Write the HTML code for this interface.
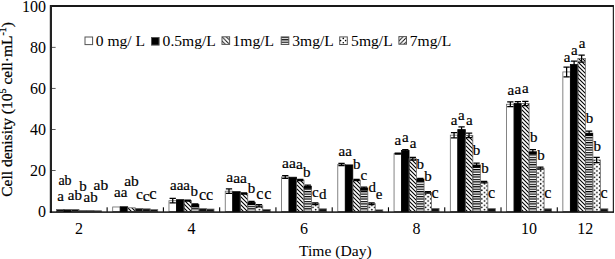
<!DOCTYPE html>
<html><head><meta charset="utf-8"><style>
html,body{margin:0;padding:0;background:#fff;}
body{width:615px;height:259px;overflow:hidden;}
svg{display:block;}
text{font-family:"Liberation Serif",serif;fill:#000;}
</style></head><body>
<svg width="615" height="259" viewBox="0 0 615 259">
<defs>
<pattern id="hb" patternUnits="userSpaceOnUse" width="4" height="4">
<path d="M-1,-1 L5,5 M-1,3 L1,5 M3,-1 L5,1" stroke="#000" stroke-width="1.1"/>
</pattern>
<pattern id="hf" patternUnits="userSpaceOnUse" width="4" height="4">
<path d="M-1,5 L5,-1 M-1,1 L1,-1 M3,5 L5,3" stroke="#000" stroke-width="1.1"/>
</pattern>
<pattern id="lhb" patternUnits="userSpaceOnUse" width="4.2" height="4.2" patternTransform="translate(222,36.8)">
<path d="M-1,-1 L5.2,5.2 M-1,3.2 L1,5.2 M3.2,-1 L5.2,1" stroke="#000" stroke-width="0.9"/>
</pattern>
<pattern id="lhf" patternUnits="userSpaceOnUse" width="4.2" height="4.2" patternTransform="translate(399,36.6)">
<path d="M-1,5.2 L5.2,-1 M-1,1 L1,-1 M3.2,5.2 L5.2,3.2" stroke="#000" stroke-width="0.9"/>
</pattern>
<pattern id="hs" patternUnits="userSpaceOnUse" width="6" height="2.45">
<rect x="0" y="0" width="6" height="1.2" fill="#000"/>
</pattern>
<pattern id="hd" patternUnits="userSpaceOnUse" width="5.2" height="4.3">
<circle cx="1.5" cy="1" r="0.85" fill="#000"/>
<circle cx="4.1" cy="3.15" r="0.85" fill="#000"/>
</pattern>

<pattern id="hd0" patternUnits="userSpaceOnUse" width="5.2" height="4.3" patternTransform="translate(86.44,0)"><circle cx="1.5" cy="1" r="0.85" fill="#000"/><circle cx="4.1" cy="3.15" r="0.85" fill="#000"/></pattern>
<pattern id="hd1" patternUnits="userSpaceOnUse" width="5.2" height="4.3" patternTransform="translate(142.71,0)"><circle cx="1.5" cy="1" r="0.85" fill="#000"/><circle cx="4.1" cy="3.15" r="0.85" fill="#000"/></pattern>
<pattern id="hd2" patternUnits="userSpaceOnUse" width="5.2" height="4.3" patternTransform="translate(198.98,0)"><circle cx="1.5" cy="1" r="0.85" fill="#000"/><circle cx="4.1" cy="3.15" r="0.85" fill="#000"/></pattern>
<pattern id="hd3" patternUnits="userSpaceOnUse" width="5.2" height="4.3" patternTransform="translate(255.25,0)"><circle cx="1.5" cy="1" r="0.85" fill="#000"/><circle cx="4.1" cy="3.15" r="0.85" fill="#000"/></pattern>
<pattern id="hd4" patternUnits="userSpaceOnUse" width="5.2" height="4.3" patternTransform="translate(311.52,0)"><circle cx="1.5" cy="1" r="0.85" fill="#000"/><circle cx="4.1" cy="3.15" r="0.85" fill="#000"/></pattern>
<pattern id="hd5" patternUnits="userSpaceOnUse" width="5.2" height="4.3" patternTransform="translate(367.79,0)"><circle cx="1.5" cy="1" r="0.85" fill="#000"/><circle cx="4.1" cy="3.15" r="0.85" fill="#000"/></pattern>
<pattern id="hd6" patternUnits="userSpaceOnUse" width="5.2" height="4.3" patternTransform="translate(424.06,0)"><circle cx="1.5" cy="1" r="0.85" fill="#000"/><circle cx="4.1" cy="3.15" r="0.85" fill="#000"/></pattern>
<pattern id="hd7" patternUnits="userSpaceOnUse" width="5.2" height="4.3" patternTransform="translate(480.33,0)"><circle cx="1.5" cy="1" r="0.85" fill="#000"/><circle cx="4.1" cy="3.15" r="0.85" fill="#000"/></pattern>
<pattern id="hd8" patternUnits="userSpaceOnUse" width="5.2" height="4.3" patternTransform="translate(536.60,0)"><circle cx="1.5" cy="1" r="0.85" fill="#000"/><circle cx="4.1" cy="3.15" r="0.85" fill="#000"/></pattern>
<pattern id="hd9" patternUnits="userSpaceOnUse" width="5.2" height="4.3" patternTransform="translate(592.87,0)"><circle cx="1.5" cy="1" r="0.85" fill="#000"/><circle cx="4.1" cy="3.15" r="0.85" fill="#000"/></pattern>
</defs>
<rect width="615" height="259" fill="#fff"/>
<rect x="56.43" y="209.45" width="7.50" height="2.05" fill="#111" stroke="#666" stroke-width="0.8"/>
<rect x="63.93" y="209.86" width="7.50" height="1.64" fill="#111" stroke="#000" stroke-width="0.8"/>
<rect x="71.43" y="209.45" width="7.50" height="2.05" fill="#111" stroke="#666" stroke-width="0.8"/>
<rect x="78.94" y="210.47" width="7.50" height="1.03" fill="#111" stroke="#666" stroke-width="0.8"/>
<rect x="86.44" y="210.47" width="7.50" height="1.03" fill="#111" stroke="#666" stroke-width="0.8"/>
<rect x="93.94" y="210.78" width="7.50" height="0.72" fill="#111" stroke="#666" stroke-width="0.8"/>
<rect x="112.70" y="206.98" width="7.50" height="4.52" fill="#fff" stroke="#666" stroke-width="0.8"/>
<rect x="120.20" y="206.78" width="7.50" height="4.72" fill="#000" stroke="#000" stroke-width="0.8"/>
<rect x="127.70" y="207.81" width="7.50" height="3.69" fill="url(#hb)" stroke="#666" stroke-width="0.8"/>
<rect x="135.20" y="208.42" width="7.50" height="3.08" fill="#111" stroke="#666" stroke-width="0.8"/>
<rect x="142.71" y="208.83" width="7.50" height="2.67" fill="#111" stroke="#666" stroke-width="0.8"/>
<rect x="150.21" y="209.65" width="7.50" height="1.85" fill="#111" stroke="#666" stroke-width="0.8"/>
<rect x="168.97" y="200.72" width="7.50" height="10.78" fill="#fff" stroke="#666" stroke-width="0.8"/>
<path d="M172.72,198.47 V202.98 M169.57,198.47 H175.87 M169.57,202.98 H175.87" stroke="#000" stroke-width="1.25" fill="none"/>
<rect x="176.47" y="199.70" width="7.50" height="11.80" fill="#000" stroke="#000" stroke-width="0.8"/>
<rect x="183.97" y="200.62" width="7.50" height="10.88" fill="url(#hb)" stroke="#666" stroke-width="0.8"/>
<path d="M187.72,200.01 V201.24 M184.57,200.01 H190.88 M184.57,201.24 H190.88" stroke="#000" stroke-width="1.25" fill="none"/>
<rect x="191.48" y="204.52" width="7.50" height="6.98" fill="url(#hs)" stroke="#666" stroke-width="0.8"/>
<rect x="191.48" y="204.52" width="7.50" height="2.8" fill="#000"/>
<path d="M195.23,203.91 V205.14 M192.08,203.91 H198.38 M192.08,205.14 H198.38" stroke="#000" stroke-width="1.25" fill="none"/>
<rect x="198.98" y="208.63" width="7.50" height="2.87" fill="#111" stroke="#666" stroke-width="0.8"/>
<rect x="206.48" y="209.04" width="7.50" height="2.46" fill="#111" stroke="#666" stroke-width="0.8"/>
<rect x="225.24" y="191.18" width="7.50" height="20.32" fill="#fff" stroke="#666" stroke-width="0.8"/>
<path d="M228.99,188.92 V193.44 M225.84,188.92 H232.14 M225.84,193.44 H232.14" stroke="#000" stroke-width="1.25" fill="none"/>
<rect x="232.74" y="191.69" width="7.50" height="19.81" fill="#000" stroke="#000" stroke-width="0.8"/>
<rect x="240.24" y="193.44" width="7.50" height="18.06" fill="url(#hb)" stroke="#666" stroke-width="0.8"/>
<path d="M243.99,192.82 V194.05 M240.84,192.82 H247.15 M240.84,194.05 H247.15" stroke="#000" stroke-width="1.25" fill="none"/>
<rect x="247.75" y="202.26" width="7.50" height="9.24" fill="url(#hs)" stroke="#666" stroke-width="0.8"/>
<rect x="247.75" y="202.26" width="7.50" height="2.8" fill="#000"/>
<path d="M251.50,201.44 V203.08 M248.35,201.44 H254.65 M248.35,203.08 H254.65" stroke="#000" stroke-width="1.25" fill="none"/>
<rect x="255.25" y="205.75" width="7.50" height="5.75" fill="url(#hd3)" stroke="#666" stroke-width="0.8"/>
<path d="M259.00,204.73 V206.78 M255.85,204.73 H262.15 M255.85,206.78 H262.15" stroke="#000" stroke-width="1.25" fill="none"/>
<rect x="262.75" y="209.45" width="7.50" height="2.05" fill="#111" stroke="#666" stroke-width="0.8"/>
<rect x="281.51" y="177.02" width="7.50" height="34.48" fill="#fff" stroke="#666" stroke-width="0.8"/>
<path d="M285.26,175.58 V178.45 M282.11,175.58 H288.41 M282.11,178.45 H288.41" stroke="#000" stroke-width="1.25" fill="none"/>
<rect x="289.01" y="177.22" width="7.50" height="34.28" fill="#000" stroke="#000" stroke-width="0.8"/>
<rect x="296.51" y="180.10" width="7.50" height="31.40" fill="url(#hb)" stroke="#666" stroke-width="0.8"/>
<path d="M300.26,179.48 V180.71 M297.11,179.48 H303.41 M297.11,180.71 H303.41" stroke="#000" stroke-width="1.25" fill="none"/>
<rect x="304.01" y="186.05" width="7.50" height="25.45" fill="url(#hs)" stroke="#666" stroke-width="0.8"/>
<rect x="304.01" y="186.05" width="7.50" height="2.8" fill="#000"/>
<path d="M307.77,185.23 V186.87 M304.62,185.23 H310.92 M304.62,186.87 H310.92" stroke="#000" stroke-width="1.25" fill="none"/>
<rect x="311.52" y="203.70" width="7.50" height="7.80" fill="url(#hd4)" stroke="#666" stroke-width="0.8"/>
<path d="M315.27,202.78 V204.62 M312.12,202.78 H318.42 M312.12,204.62 H318.42" stroke="#000" stroke-width="1.25" fill="none"/>
<rect x="319.02" y="208.83" width="7.50" height="2.67" fill="#111" stroke="#666" stroke-width="0.8"/>
<rect x="337.78" y="164.50" width="7.50" height="47.00" fill="#fff" stroke="#666" stroke-width="0.8"/>
<path d="M341.53,163.47 V165.52 M338.38,163.47 H344.68 M338.38,165.52 H344.68" stroke="#000" stroke-width="1.25" fill="none"/>
<rect x="345.28" y="164.91" width="7.50" height="46.59" fill="#000" stroke="#000" stroke-width="0.8"/>
<rect x="352.78" y="180.10" width="7.50" height="31.40" fill="url(#hb)" stroke="#666" stroke-width="0.8"/>
<path d="M356.53,179.48 V180.71 M353.38,179.48 H359.69 M353.38,180.71 H359.69" stroke="#000" stroke-width="1.25" fill="none"/>
<rect x="360.29" y="187.90" width="7.50" height="23.60" fill="url(#hs)" stroke="#666" stroke-width="0.8"/>
<rect x="360.29" y="187.90" width="7.50" height="2.8" fill="#000"/>
<path d="M364.04,187.08 V188.72 M360.89,187.08 H367.19 M360.89,188.72 H367.19" stroke="#000" stroke-width="1.25" fill="none"/>
<rect x="367.79" y="203.70" width="7.50" height="7.80" fill="url(#hd5)" stroke="#666" stroke-width="0.8"/>
<path d="M371.54,202.88 V204.52 M368.39,202.88 H374.69 M368.39,204.52 H374.69" stroke="#000" stroke-width="1.25" fill="none"/>
<rect x="375.29" y="209.86" width="7.50" height="1.64" fill="#111" stroke="#666" stroke-width="0.8"/>
<rect x="394.05" y="153.62" width="7.50" height="57.88" fill="#fff" stroke="#666" stroke-width="0.8"/>
<path d="M397.80,153.21 V154.03 M394.65,153.21 H400.95 M394.65,154.03 H400.95" stroke="#000" stroke-width="1.25" fill="none"/>
<rect x="401.55" y="150.54" width="7.50" height="60.96" fill="#000" stroke="#000" stroke-width="0.8"/>
<path d="M405.30,149.51 V151.57 M402.15,149.51 H408.45 M402.15,151.57 H408.45" stroke="#000" stroke-width="1.25" fill="none"/>
<rect x="409.05" y="158.75" width="7.50" height="52.75" fill="url(#hb)" stroke="#666" stroke-width="0.8"/>
<path d="M412.80,157.31 V160.19 M409.65,157.31 H415.95 M409.65,160.19 H415.95" stroke="#000" stroke-width="1.25" fill="none"/>
<rect x="416.56" y="179.07" width="7.50" height="32.43" fill="url(#hs)" stroke="#666" stroke-width="0.8"/>
<rect x="416.56" y="179.07" width="7.50" height="2.8" fill="#000"/>
<path d="M420.31,178.25 V179.89 M417.16,178.25 H423.46 M417.16,179.89 H423.46" stroke="#000" stroke-width="1.25" fill="none"/>
<rect x="424.06" y="192.41" width="7.50" height="19.09" fill="url(#hd6)" stroke="#666" stroke-width="0.8"/>
<path d="M427.81,191.59 V193.23 M424.66,191.59 H430.96 M424.66,193.23 H430.96" stroke="#000" stroke-width="1.25" fill="none"/>
<rect x="431.56" y="208.42" width="7.50" height="3.08" fill="#111" stroke="#666" stroke-width="0.8"/>
<rect x="450.32" y="135.15" width="7.50" height="76.35" fill="#fff" stroke="#666" stroke-width="0.8"/>
<path d="M454.07,132.54 V137.75 M450.92,132.54 H457.22 M450.92,137.75 H457.22" stroke="#000" stroke-width="1.25" fill="none"/>
<rect x="457.82" y="129.61" width="7.50" height="81.89" fill="#000" stroke="#000" stroke-width="0.8"/>
<path d="M461.57,126.94 V132.27 M458.42,126.94 H464.72 M458.42,132.27 H464.72" stroke="#000" stroke-width="1.25" fill="none"/>
<rect x="465.32" y="135.35" width="7.50" height="76.15" fill="url(#hb)" stroke="#666" stroke-width="0.8"/>
<path d="M469.07,133.16 V137.55 M465.92,133.16 H472.23 M465.92,137.55 H472.23" stroke="#000" stroke-width="1.25" fill="none"/>
<rect x="472.83" y="164.91" width="7.50" height="46.59" fill="url(#hs)" stroke="#666" stroke-width="0.8"/>
<rect x="472.83" y="164.91" width="7.50" height="2.8" fill="#000"/>
<path d="M476.58,163.06 V166.76 M473.43,163.06 H479.73 M473.43,166.76 H479.73" stroke="#000" stroke-width="1.25" fill="none"/>
<rect x="480.33" y="182.15" width="7.50" height="29.35" fill="url(#hd7)" stroke="#666" stroke-width="0.8"/>
<path d="M484.08,181.33 V182.97 M480.93,181.33 H487.23 M480.93,182.97 H487.23" stroke="#000" stroke-width="1.25" fill="none"/>
<rect x="487.83" y="208.63" width="7.50" height="2.87" fill="#111" stroke="#666" stroke-width="0.8"/>
<rect x="506.59" y="104.26" width="7.50" height="107.24" fill="#fff" stroke="#666" stroke-width="0.8"/>
<path d="M510.34,101.79 V106.72 M507.19,101.79 H513.49 M507.19,106.72 H513.49" stroke="#000" stroke-width="1.25" fill="none"/>
<rect x="514.09" y="103.54" width="7.50" height="107.96" fill="#000" stroke="#000" stroke-width="0.8"/>
<path d="M517.84,101.69 V105.39 M514.69,101.69 H520.99 M514.69,105.39 H520.99" stroke="#000" stroke-width="1.25" fill="none"/>
<rect x="521.59" y="103.54" width="7.50" height="107.96" fill="url(#hb)" stroke="#666" stroke-width="0.8"/>
<path d="M525.34,101.49 V105.59 M522.19,101.49 H528.50 M522.19,105.59 H528.50" stroke="#000" stroke-width="1.25" fill="none"/>
<rect x="529.10" y="151.57" width="7.50" height="59.93" fill="url(#hs)" stroke="#666" stroke-width="0.8"/>
<rect x="529.10" y="151.57" width="7.50" height="2.8" fill="#000"/>
<path d="M532.85,149.72 V153.41 M529.70,149.72 H536.00 M529.70,153.41 H536.00" stroke="#000" stroke-width="1.25" fill="none"/>
<rect x="536.60" y="168.19" width="7.50" height="43.31" fill="url(#hd8)" stroke="#666" stroke-width="0.8"/>
<path d="M540.35,167.17 V169.22 M537.20,167.17 H543.50 M537.20,169.22 H543.50" stroke="#000" stroke-width="1.25" fill="none"/>
<rect x="544.10" y="208.83" width="7.50" height="2.67" fill="#111" stroke="#666" stroke-width="0.8"/>
<rect x="562.86" y="71.93" width="7.50" height="139.57" fill="#fff" stroke="#666" stroke-width="0.8"/>
<path d="M566.61,67.09 V76.77 M563.46,67.09 H569.76 M563.46,76.77 H569.76" stroke="#000" stroke-width="1.25" fill="none"/>
<rect x="570.36" y="64.54" width="7.50" height="146.96" fill="#000" stroke="#000" stroke-width="0.8"/>
<path d="M574.11,61.05 V68.03 M570.96,61.05 H577.26 M570.96,68.03 H577.26" stroke="#000" stroke-width="1.25" fill="none"/>
<rect x="577.86" y="58.59" width="7.50" height="152.91" fill="url(#hb)" stroke="#666" stroke-width="0.8"/>
<path d="M581.61,55.18 V62.00 M578.46,55.18 H584.76 M578.46,62.00 H584.76" stroke="#000" stroke-width="1.25" fill="none"/>
<rect x="585.37" y="133.09" width="7.50" height="78.41" fill="url(#hs)" stroke="#666" stroke-width="0.8"/>
<rect x="585.37" y="133.09" width="7.50" height="2.8" fill="#000"/>
<path d="M589.12,131.04 V135.15 M585.97,131.04 H592.27 M585.97,135.15 H592.27" stroke="#000" stroke-width="1.25" fill="none"/>
<rect x="592.87" y="159.98" width="7.50" height="51.52" fill="url(#hd9)" stroke="#666" stroke-width="0.8"/>
<path d="M596.62,157.44 V162.53 M593.47,157.44 H599.77 M593.47,162.53 H599.77" stroke="#000" stroke-width="1.25" fill="none"/>
<rect x="600.37" y="208.83" width="7.50" height="2.67" fill="#111" stroke="#666" stroke-width="0.8"/>
<rect x="50" y="5.1" width="563.5" height="1.8" fill="#000"/>
<rect x="612.8" y="5.1" width="1.1" height="207.7" fill="#111"/>
<rect x="49.8" y="5.1" width="2.2" height="207.6" fill="#222"/>
<rect x="49.8" y="211.4" width="563.8" height="1.4" fill="#000"/>
<rect x="51.8" y="170.05" width="3.8" height="0.8" fill="#333"/>
<rect x="51.8" y="129.00" width="3.8" height="0.8" fill="#333"/>
<rect x="51.8" y="87.95" width="3.8" height="0.8" fill="#333"/>
<rect x="51.8" y="46.90" width="3.8" height="0.8" fill="#333"/>
<rect x="106.57" y="207.3" width="1.1" height="4.5" fill="#000"/>
<rect x="162.84" y="207.3" width="1.1" height="4.5" fill="#000"/>
<rect x="219.11" y="207.3" width="1.1" height="4.5" fill="#000"/>
<rect x="275.38" y="207.3" width="1.1" height="4.5" fill="#000"/>
<rect x="331.65" y="207.3" width="1.1" height="4.5" fill="#000"/>
<rect x="387.92" y="207.3" width="1.1" height="4.5" fill="#000"/>
<rect x="444.19" y="207.3" width="1.1" height="4.5" fill="#000"/>
<rect x="500.46" y="207.3" width="1.1" height="4.5" fill="#000"/>
<rect x="556.73" y="207.3" width="1.1" height="4.5" fill="#000"/>
<text x="46" y="216.90" font-size="16" text-anchor="end">0</text>
<text x="46" y="175.85" font-size="16" text-anchor="end">20</text>
<text x="46" y="134.80" font-size="16" text-anchor="end">40</text>
<text x="46" y="93.75" font-size="16" text-anchor="end">60</text>
<text x="46" y="52.70" font-size="16" text-anchor="end">80</text>
<text x="46" y="11.65" font-size="16" text-anchor="end">100</text>
<text x="78.94" y="234.2" font-size="16" text-anchor="middle">2</text>
<text x="191.47" y="234.2" font-size="16" text-anchor="middle">4</text>
<text x="304.01" y="234.2" font-size="16" text-anchor="middle">6</text>
<text x="416.56" y="234.2" font-size="16" text-anchor="middle">8</text>
<text x="529.10" y="234.2" font-size="16" text-anchor="middle">10</text>
<text x="585.37" y="234.2" font-size="16" text-anchor="middle">12</text>
<text x="299" y="255.5" font-size="15.6">Time (Day)</text>
<text transform="translate(12.0,109.4) rotate(-90)" font-size="15.5" text-anchor="middle" stroke="#000" stroke-width="0.25">Cell denisity (10<tspan font-size="10" dy="-6">5</tspan><tspan dy="6"> cell·mL</tspan><tspan font-size="10" dy="-6">-1</tspan><tspan dy="6">)</tspan></text>
<rect x="85.0" y="37.0" width="7.6" height="7.6" fill="#fff" stroke="#555" stroke-width="1"/>
<text x="95.7" y="45.5" font-size="15.6">0 mg/ L</text>
<rect x="151.5" y="37.5" width="7.6" height="7.6" fill="#000" stroke="#555" stroke-width="1"/>
<text x="162.6" y="45.5" font-size="15.6">0.5mg/L</text>
<rect x="222.0" y="36.8" width="7.6" height="7.6" fill="url(#lhb)" stroke="#555" stroke-width="1"/>
<text x="232.5" y="45.5" font-size="15.6">1mg/L</text>
<rect x="281.2" y="36.9" width="7.6" height="7.6" fill="url(#hs)" stroke="#555" stroke-width="1"/>
<text x="292.3" y="45.5" font-size="15.6">3mg/L</text>
<rect x="339.7" y="36.9" width="7.6" height="7.6" fill="#fff" stroke="#555" stroke-width="1"/>
<text x="351.1" y="45.5" font-size="15.6">5mg/L</text>
<rect x="398.9" y="36.6" width="7.6" height="7.6" fill="url(#lhf)" stroke="#555" stroke-width="1"/>
<text x="409.8" y="45.5" font-size="15.6">7mg/L</text>
<g fill="#000"><circle cx="343.3" cy="38.4" r="0.8"/><circle cx="340.6" cy="40.6" r="0.8"/><circle cx="345.6" cy="40.6" r="0.8"/><circle cx="343.3" cy="42.7" r="0.8"/></g>
<text x="58.40" y="184.60" font-size="14.00" stroke="#000" stroke-width="0.2">ab</text>
<text x="57.20" y="200.90" font-size="15.00" stroke="#000" stroke-width="0.2">a</text>
<text x="67.80" y="199.50" font-size="15.00" stroke="#000" stroke-width="0.2">ab</text>
<text x="79.20" y="191.10" font-size="15.00" stroke="#000" stroke-width="0.2">b</text>
<text x="83.50" y="201.90" font-size="15.00" stroke="#000" stroke-width="0.2">ab</text>
<text x="93.50" y="189.80" font-size="15.50" stroke="#000" stroke-width="0.2">ab</text>
<text x="114.00" y="197.00" font-size="15.00" stroke="#000" stroke-width="0.2">aa</text>
<text x="124.20" y="186.20" font-size="15.50" stroke="#000" stroke-width="0.2">ab</text>
<text x="136.00" y="199.30" font-size="15.50" stroke="#000" stroke-width="0.2">c</text>
<text x="142.70" y="201.00" font-size="15.50" stroke="#000" stroke-width="0.2">c</text>
<text x="149.30" y="199.30" font-size="16.50" stroke="#000" stroke-width="0.2">c</text>
<text x="170.00" y="190.00" font-size="15.00" stroke="#000" stroke-width="0.2">aaa</text>
<text x="190.40" y="196.30" font-size="15.00" stroke="#000" stroke-width="0.2">b</text>
<text x="199.00" y="200.20" font-size="16.00" stroke="#000" stroke-width="0.2">cc</text>
<text x="226.30" y="182.30" font-size="15.50" stroke="#000" stroke-width="0.2">a</text>
<text x="233.20" y="182.80" font-size="15.50" stroke="#000" stroke-width="0.2">a</text>
<text x="240.10" y="183.30" font-size="15.50" stroke="#000" stroke-width="0.2">a</text>
<text x="247.80" y="192.70" font-size="15.00" stroke="#000" stroke-width="0.2">b</text>
<text x="256.30" y="198.60" font-size="16.00" stroke="#000" stroke-width="0.2">c</text>
<text x="264.20" y="199.40" font-size="16.00" stroke="#000" stroke-width="0.2">c</text>
<text x="281.90" y="167.80" font-size="15.50" stroke="#000" stroke-width="0.2">a</text>
<text x="288.90" y="168.30" font-size="15.50" stroke="#000" stroke-width="0.2">a</text>
<text x="295.90" y="168.80" font-size="15.50" stroke="#000" stroke-width="0.2">a</text>
<text x="303.00" y="177.40" font-size="15.00" stroke="#000" stroke-width="0.2">b</text>
<text x="311.90" y="196.70" font-size="15.00" stroke="#000" stroke-width="0.2">c</text>
<text x="318.90" y="198.60" font-size="15.00" stroke="#000" stroke-width="0.2">d</text>
<text x="338.50" y="155.90" font-size="15.00" stroke="#000" stroke-width="0.2">aa</text>
<text x="353.10" y="168.60" font-size="15.00" stroke="#000" stroke-width="0.2">b</text>
<text x="360.40" y="179.80" font-size="15.00" stroke="#000" stroke-width="0.2">c</text>
<text x="368.40" y="191.60" font-size="15.00" stroke="#000" stroke-width="0.2">d</text>
<text x="375.80" y="199.40" font-size="15.00" stroke="#000" stroke-width="0.2">e</text>
<text x="394.50" y="144.70" font-size="15.00" stroke="#000" stroke-width="0.2">a</text>
<text x="402.00" y="141.60" font-size="15.00" stroke="#000" stroke-width="0.2">a</text>
<text x="409.80" y="147.80" font-size="15.00" stroke="#000" stroke-width="0.2">a</text>
<text x="416.50" y="169.40" font-size="15.00" stroke="#000" stroke-width="0.2">b</text>
<text x="424.20" y="181.30" font-size="15.00" stroke="#000" stroke-width="0.2">b</text>
<text x="431.40" y="198.30" font-size="16.00" stroke="#000" stroke-width="0.2">c</text>
<text x="450.70" y="124.90" font-size="15.00" stroke="#000" stroke-width="0.2">a</text>
<text x="457.90" y="119.70" font-size="15.00" stroke="#000" stroke-width="0.2">a</text>
<text x="466.10" y="124.90" font-size="15.00" stroke="#000" stroke-width="0.2">a</text>
<text x="472.80" y="155.20" font-size="15.00" stroke="#000" stroke-width="0.2">b</text>
<text x="481.20" y="172.60" font-size="15.00" stroke="#000" stroke-width="0.2">b</text>
<text x="487.90" y="197.90" font-size="16.00" stroke="#000" stroke-width="0.2">c</text>
<text x="507.40" y="95.00" font-size="15.00" stroke="#000" stroke-width="0.2">a</text>
<text x="514.40" y="94.30" font-size="15.00" stroke="#000" stroke-width="0.2">a</text>
<text x="522.00" y="92.80" font-size="15.00" stroke="#000" stroke-width="0.2">a</text>
<text x="530.10" y="141.90" font-size="15.00" stroke="#000" stroke-width="0.2">b</text>
<text x="537.30" y="159.90" font-size="15.00" stroke="#000" stroke-width="0.2">b</text>
<text x="544.30" y="197.90" font-size="16.00" stroke="#000" stroke-width="0.2">c</text>
<text x="563.70" y="62.20" font-size="15.00" stroke="#000" stroke-width="0.2">a</text>
<text x="570.90" y="55.00" font-size="15.00" stroke="#000" stroke-width="0.2">a</text>
<text x="578.70" y="48.00" font-size="15.00" stroke="#000" stroke-width="0.2">a</text>
<text x="585.80" y="123.10" font-size="15.00" stroke="#000" stroke-width="0.2">b</text>
<text x="593.60" y="150.80" font-size="15.00" stroke="#000" stroke-width="0.2">b</text>
<text x="600.60" y="197.50" font-size="16.00" stroke="#000" stroke-width="0.2">c</text>
</svg>
</body></html>
